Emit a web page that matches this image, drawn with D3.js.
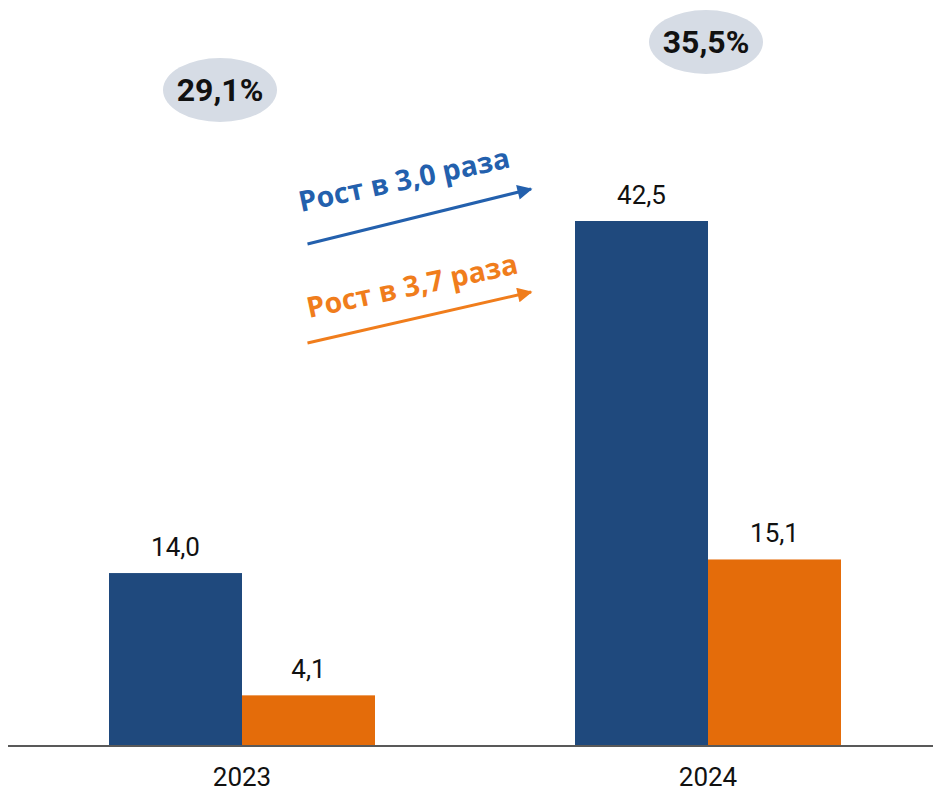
<!DOCTYPE html>
<html>
<head>
<meta charset="utf-8">
<script src="https://cdn.jsdelivr.net/npm/d3@7"></script>
<style>
  html, body { margin: 0; padding: 0; background: #fff; }
  svg { display: block; }
</style>
</head>
<body>
<svg id="chart" width="933" height="795"></svg>
<script>
// Categories and values
const years = ["2023", "2024"];
const seriesKeys = ["blue", "orange"];
const blueValues = [14.0, 42.5];
const orangeValues = [4.1, 15.1];
const shareLabels = ["29,1%", "35,5%"];
const growthLabels = ["Рост в 3,0 раза", "Рост в 3,7 раза"];

const colors = { blue: "#1f497d", orange: "#e46c0a" };
const growthColors = ["#2360ad", "#f07d1c"];

const rows = years.map((y, i) => ({ year: y, blue: blueValues[i], orange: orangeValues[i] }));

const svg = d3.select("#chart");
const baseY = 746;

const x = d3.scaleBand().domain(years).range([109, 841]).paddingInner(0.4292).paddingOuter(0);
const xs = d3.scaleBand().domain(seriesKeys).range([0, x.bandwidth()]).padding(0);
const y = d3.scaleLinear().domain([0, 42.5]).range([baseY, 221]);

const fmt = v => d3.format(".1f")(v).replace(".", ",");
const fontFamily = "Roboto, 'Open Sans', sans-serif";

// Bars
const groups = svg.append("g").selectAll("g").data(rows).join("g")
  .attr("transform", d => `translate(${x(d.year)},0)`);

groups.selectAll("rect")
  .data(d => seriesKeys.map(k => ({ key: k, value: d[k] })))
  .join("rect")
  .attr("x", d => xs(d.key))
  .attr("y", d => y(d.value))
  .attr("width", xs.bandwidth())
  .attr("height", d => baseY - y(d.value))
  .attr("fill", d => colors[d.key]);

// Value labels
groups.selectAll("text.val")
  .data(d => seriesKeys.map(k => ({ key: k, value: d[k] })))
  .join("text")
  .attr("class", "val")
  .attr("x", d => xs(d.key) + xs.bandwidth() / 2)
  .attr("y", d => y(d.value) - 17)
  .attr("text-anchor", "middle")
  .attr("font-family", fontFamily)
  .attr("font-size", 26)
  .attr("fill", "#111")
  .text(d => fmt(d.value));

// Baseline axis
const axis = svg.append("g").attr("transform", `translate(0,${baseY})`)
  .call(d3.axisBottom(x).tickSize(0).tickPadding(22));
axis.select(".domain").attr("d", "M8,0H933").attr("stroke", "#595959").attr("stroke-width", 2);
axis.selectAll(".tick text")
  .attr("font-family", fontFamily)
  .attr("font-size", 26)
  .attr("fill", "#111");

// Share ellipses above each year
const shareOffsets = [{ dx: -22, cy: 90 }, { dx: -2, cy: 42 }];
const shares = svg.append("g").selectAll("g").data(years).join("g")
  .attr("transform", (d, i) => `translate(${x(d) + x.bandwidth() / 2 + shareOffsets[i].dx},${shareOffsets[i].cy})`);
shares.append("ellipse").attr("rx", 57).attr("ry", 32).attr("fill", "#d6dce5");
shares.append("text")
  .attr("text-anchor", "middle")
  .attr("y", 11)
  .attr("font-family", fontFamily)
  .attr("font-weight", "bold")
  .attr("font-size", 32)
  .attr("fill", "#111")
  .text((d, i) => shareLabels[i]);

// Growth arrows between the years
const defs = svg.append("defs");
growthColors.forEach((c, i) => {
  defs.append("marker")
    .attr("id", "arrow" + i)
    .attr("viewBox", "0 0 10 10")
    .attr("refX", 9).attr("refY", 5)
    .attr("markerWidth", 6).attr("markerHeight", 5)
    .attr("markerUnits", "strokeWidth")
    .attr("orient", "auto")
    .append("path").attr("d", "M0,0L10,5L0,10Z").attr("fill", c);
});

const x0 = x(years[0]) + xs("orange") + xs.bandwidth() / 2 - 1;
const x1 = x(years[1]) - 44;
const arrows = [
  { y0: 244, y1: 189, tx: 301, ty: 212 },
  { y0: 343, y1: 292, tx: 309, ty: 318 }
];
arrows.forEach((a, i) => {
  svg.append("line")
    .attr("x1", x0).attr("y1", a.y0)
    .attr("x2", x1).attr("y2", a.y1)
    .attr("stroke", growthColors[i])
    .attr("stroke-width", 3)
    .attr("marker-end", `url(#arrow${i})`);
  svg.append("text")
    .attr("transform", `translate(${a.tx},${a.ty}) rotate(-12)`)
    .attr("font-family", "'Open Sans', Roboto, sans-serif")
    .attr("font-weight", "bold")
    .attr("font-size", 28.5)
    .attr("fill", growthColors[i])
    .text(growthLabels[i]);
});
</script>
</body>
</html>
